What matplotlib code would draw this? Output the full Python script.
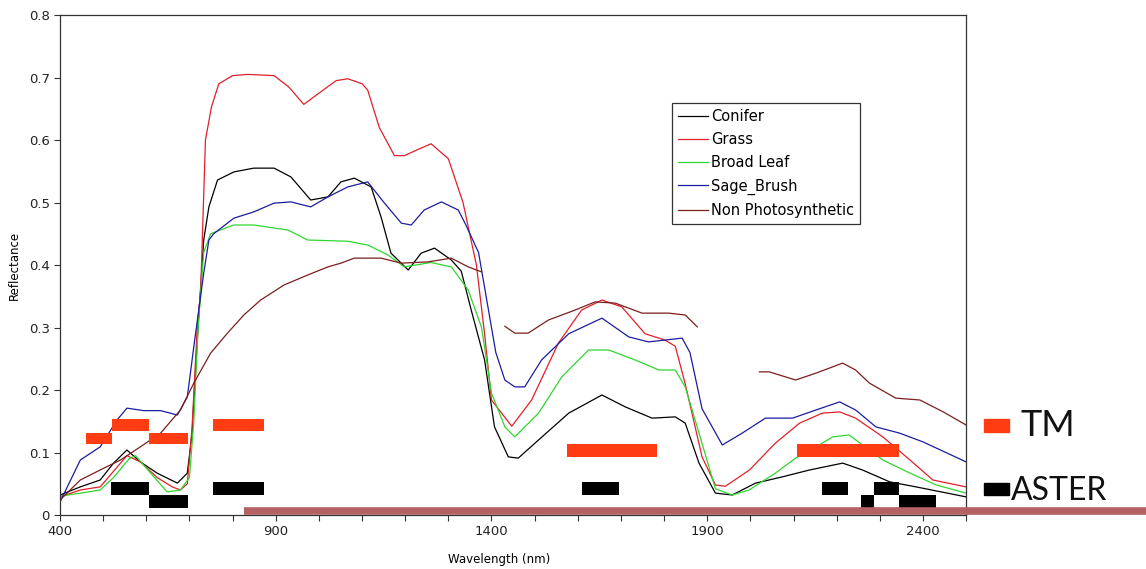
import numpy as np
import matplotlib
matplotlib.use("Agg")
from matplotlib import pyplot as plt
from matplotlib.lines import Line2D

nan = np.nan

# spectra (wavelength nm, reflectance)
conifer_nm = [400, 447, 493, 524, 555, 586, 625, 672, 695, 706, 718, 733, 745, 765, 803, 849, 896, 935, 981,
              1021, 1051, 1082, 1121, 1144, 1167, 1207, 1237, 1268, 1307, 1330, 1353, 1384, 1407, 1439, 1462,
              1509, 1579, 1656, 1710, 1772, 1826, 1849, 1881, 1919, 1958, 2012, 2074, 2137, 2214, 2260, 2323,
              2384, 2500]
conifer = [0.032, 0.045, 0.056, 0.083, 0.104, 0.085, 0.067, 0.051, 0.067, 0.131, 0.28, 0.44, 0.493, 0.536,
           0.549, 0.555, 0.555, 0.541, 0.504, 0.509, 0.533, 0.539, 0.525, 0.477, 0.419, 0.392, 0.419, 0.427,
           0.408, 0.39, 0.328, 0.248, 0.141, 0.093, 0.091, 0.12, 0.163, 0.192, 0.173, 0.155, 0.157, 0.147,
           0.083, 0.035, 0.032, 0.051, 0.061, 0.072, 0.083, 0.072, 0.053, 0.045, 0.029]

grass_nm = [400, 447, 493, 524, 555, 586, 625, 660, 679, 695, 706, 718, 726, 737, 751, 768, 800, 835, 896, 930,
            965, 1000, 1040, 1067, 1100, 1113, 1140, 1175, 1198, 1230, 1260, 1300, 1334, 1365, 1384, 1400, 1447,
            1493, 1555, 1609, 1656, 1702, 1756, 1802, 1826, 1849, 1888, 1919, 1942, 1998, 2058, 2114, 2167,
            2207, 2244, 2307, 2370, 2423, 2500]
grass = [0.029, 0.04, 0.045, 0.07, 0.095, 0.085, 0.06, 0.045, 0.04, 0.05, 0.14, 0.3, 0.36, 0.6, 0.653, 0.69,
         0.703, 0.705, 0.703, 0.685, 0.657, 0.675, 0.695, 0.698, 0.69, 0.68, 0.62, 0.575, 0.575, 0.585, 0.594,
         0.57, 0.5, 0.4, 0.29, 0.184, 0.142, 0.184, 0.275, 0.328, 0.344, 0.333, 0.29, 0.28, 0.27, 0.21, 0.093,
         0.048, 0.046, 0.072, 0.115, 0.147, 0.163, 0.165, 0.155, 0.125, 0.088, 0.056, 0.045]

broad_nm = [400, 447, 493, 524, 560, 575, 600, 648, 679, 700, 710, 720, 733, 749, 802, 849, 928, 974, 1067,
            1113, 1160, 1198, 1260, 1307, 1346, 1377, 1400, 1431, 1454, 1509, 1563, 1625, 1672, 1733, 1788,
            1826, 1849, 1881, 1919, 1958, 1997, 2058, 2105, 2152, 2191, 2229, 2260, 2307, 2370, 2431, 2500]
broad = [0.03, 0.035, 0.04, 0.06, 0.09, 0.095, 0.075, 0.037, 0.04, 0.06, 0.15, 0.3, 0.42, 0.45, 0.464, 0.464,
         0.456, 0.44, 0.438, 0.432, 0.416, 0.397, 0.404, 0.397, 0.36, 0.3, 0.195, 0.141, 0.125, 0.163, 0.221,
         0.264, 0.264, 0.248, 0.232, 0.232, 0.205, 0.131, 0.042, 0.032, 0.04, 0.067, 0.091, 0.109, 0.125, 0.128,
         0.112, 0.088, 0.067, 0.048, 0.035]

sage_nm = [400, 447, 493, 532, 555, 594, 633, 672, 695, 710, 733, 745, 756, 803, 849, 896, 935, 981, 1021, 1067,
           1113, 1152, 1191, 1214, 1244, 1284, 1323, 1340, 1370, 1390, 1410, 1431, 1454, 1477, 1516, 1579, 1656,
           1718, 1764, 1842, 1860, 1888, 1935, 1981, 2035, 2098, 2152, 2207, 2244, 2291, 2346, 2400, 2500]
sage = [0.021, 0.088, 0.109, 0.152, 0.171, 0.167, 0.167, 0.16, 0.189, 0.269, 0.387, 0.44, 0.45, 0.475, 0.485,
        0.499, 0.501, 0.493, 0.509, 0.525, 0.533, 0.499, 0.467, 0.464, 0.488, 0.501, 0.488, 0.465, 0.42, 0.34,
        0.26, 0.216, 0.205, 0.205, 0.248, 0.29, 0.315, 0.285, 0.277, 0.283, 0.26, 0.17, 0.112, 0.131, 0.155,
        0.155, 0.168, 0.181, 0.168, 0.141, 0.131, 0.117, 0.085]

nonphoto_nm = [400, 447, 493, 540, 586, 633, 679, 710, 749, 788, 826, 865, 919, 974, 1021, 1051, 1082, 1144,
               1191, 1253, 1307, 1346, 1377, 1400, 1431, 1454, 1485, 1532, 1594, 1640, 1687, 1749, 1811, 1849,
               1877, 1950, 2021, 2044, 2105, 2152, 2214, 2244, 2276, 2337, 2393, 2447, 2500]
nonphoto = [0.024, 0.056, 0.072, 0.088, 0.109, 0.131, 0.168, 0.211, 0.259, 0.291, 0.32, 0.344, 0.368, 0.384,
            0.397, 0.403, 0.411, 0.411, 0.403, 0.405, 0.411, 0.397, 0.389, nan, 0.302, 0.291, 0.291, 0.312,
            0.328, 0.341, 0.339, 0.323, 0.323, 0.32, 0.301, nan, 0.229, 0.229, 0.216, 0.227, 0.243, 0.232,
            0.211, 0.187, 0.184, 0.165, 0.144]

# sensor bands: start, end, bottom, top
tm_start = [460, 520, 607, 755, 1576, 2107]
tm_end = [520, 607, 696, 872, 1784, 2344]
tm_lo = [0.113, 0.134, 0.113, 0.134, 0.093, 0.093]
tm_hi = [0.132, 0.153, 0.132, 0.153, 0.114, 0.114]

aster_start = [519, 607, 755, 1609, 2166, 2256, 2286, 2344]
aster_end = [607, 696, 872, 1695, 2226, 2286, 2344, 2430]
aster_lo = [0.032, 0.011, 0.032, 0.032, 0.032, 0.011, 0.032, 0.011]
aster_hi = [0.053, 0.032, 0.053, 0.053, 0.053, 0.032, 0.053, 0.032]

fig = plt.figure(figsize=(11.46, 5.69), dpi=100)
ax = fig.add_axes([0.0524, 0.0949, 0.7906, 0.8787])

lw = 0.9
ax.plot(conifer_nm, conifer, color="black", lw=lw, label="Conifer")
ax.plot(grass_nm, grass, color="#e0202a", lw=lw, label="Grass")
ax.plot(broad_nm, broad, color="#30d630", lw=lw, label="Broad Leaf")
ax.plot(sage_nm, sage, color="#1c1ca0", lw=lw, label="Sage_Brush")
ax.plot(nonphoto_nm, nonphoto, color="#7a1e1e", lw=lw, label="Non Photosynthetic")

tm_w = [e - s for s, e in zip(tm_start, tm_end)]
tm_h = [h - l for l, h in zip(tm_lo, tm_hi)]
ax.bar(tm_start, tm_h, width=tm_w, bottom=tm_lo, align="edge", color="#ff3c12", zorder=5)
as_w = [e - s for s, e in zip(aster_start, aster_end)]
as_h = [h - l for l, h in zip(aster_lo, aster_hi)]
ax.bar(aster_start, as_h, width=as_w, bottom=aster_lo, align="edge", color="black", zorder=5)

ax.set_xlim(400, 2500)
ax.set_ylim(0, 0.8)
ax.set_xticks(range(400, 2501, 100))
ax.set_xticklabels([str(v) if (v - 400) % 500 == 0 else "" for v in range(400, 2501, 100)])
ax.set_yticks(np.arange(0, 0.81, 0.1))
ax.set_yticklabels(["0"] + ["%.1f" % v for v in np.arange(0.1, 0.81, 0.1)])
ax.tick_params(direction="out", length=4, width=0.8, labelsize=9.5, colors="#333333", labelcolor="#222222")
for s in ax.spines.values():
    s.set_color("#333333")
    s.set_linewidth(0.9)
ax.set_xlabel("Wavelength (nm)", fontsize=8.5)
ax.xaxis.set_label_coords(0.485, -0.076)
ax.set_ylabel("Reflectance", fontsize=8.5)
ax.yaxis.set_label_coords(-0.043, 0.5)

leg = ax.legend(loc="upper left", bbox_to_anchor=(672 / 1146, 1 - 103 / 569), bbox_transform=fig.transFigure,
                fontsize=10.5, frameon=True, fancybox=False, edgecolor="black", handlelength=2.1,
                handletextpad=0.2, labelspacing=0.56, borderpad=0.4, borderaxespad=0)
leg.get_frame().set_linewidth(0.9)

# decorative slide bar under the plot and the sensor key on the right
fig.add_artist(Line2D([244 / 1146, 1.0], [1 - 511 / 569, 1 - 511 / 569], color="#b46262", lw=5.5,
                      solid_capstyle="butt"))
fig.patches.append(plt.Rectangle((984 / 1146, 1 - 432 / 569), 25 / 1146, 13 / 569, transform=fig.transFigure,
                                 color="#ff3c12"))
fig.patches.append(plt.Rectangle((984 / 1146, 1 - 495 / 569), 25 / 1146, 12 / 569, transform=fig.transFigure,
                                 color="black"))
fig.text(1020 / 1146, 1 - 425 / 569, "TM", fontsize=26, family="Lato", va="center", ha="left", color="#111111")
fig.text(1011 / 1146, 1 - 491 / 569, "ASTER", fontsize=23, family="Lato", va="center", ha="left",
         color="#111111")

fig.savefig("out.png", dpi=100)
